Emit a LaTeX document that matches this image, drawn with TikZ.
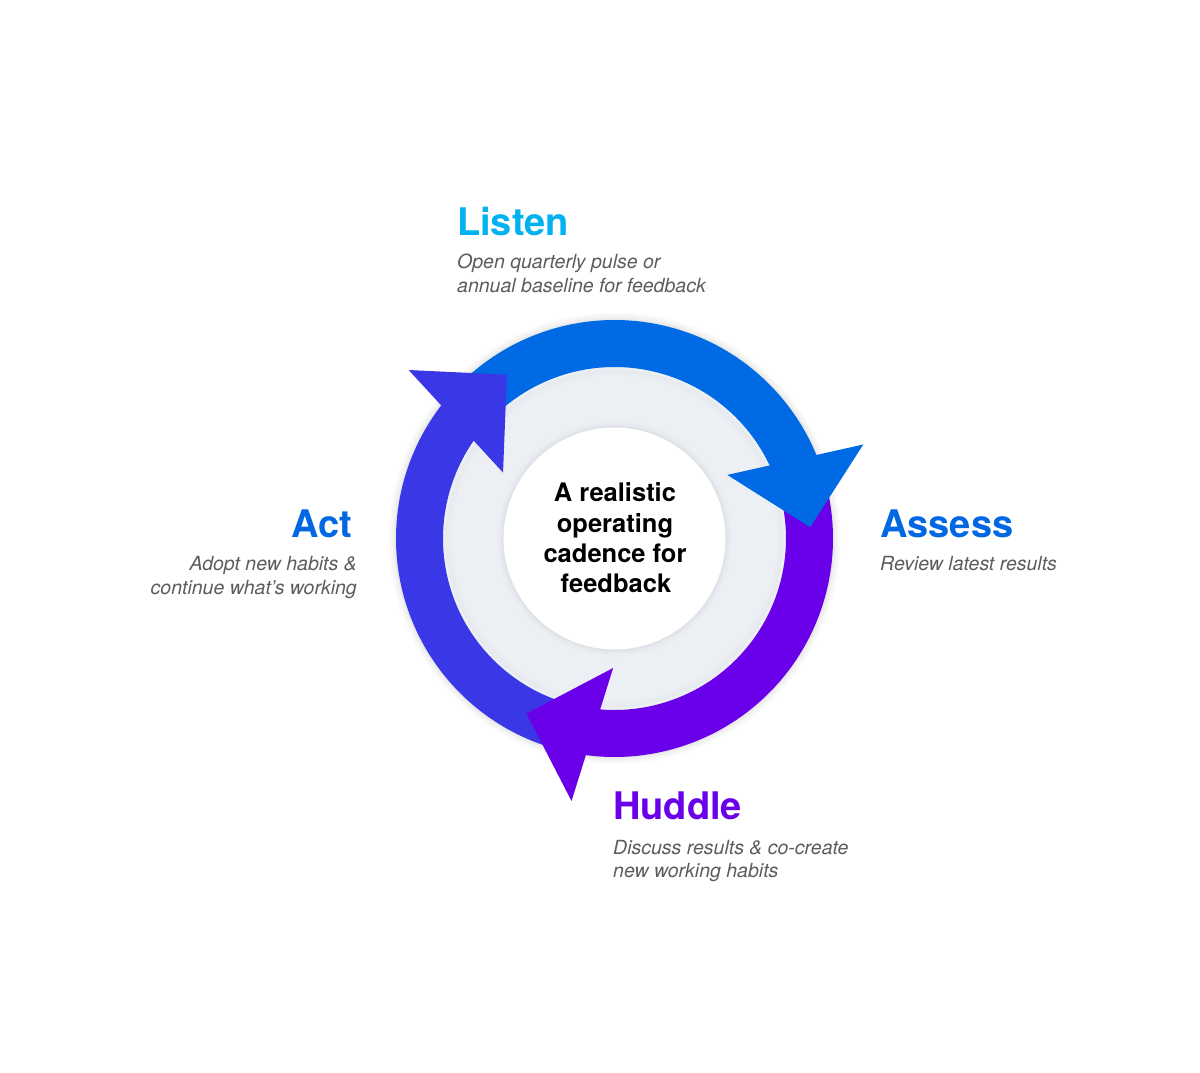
\documentclass[tikz,border=0pt]{standalone}
\usepackage{fontspec}
\setmainfont{TeX Gyre Heros}
\definecolor{ringblue}{HTML}{0069E4}
\definecolor{ringindigo}{HTML}{3A38E6}
\definecolor{ringpurple}{HTML}{6A00E9}
\definecolor{innergray}{HTML}{ECF0F4}
\definecolor{listencol}{HTML}{00B2F0}
\definecolor{bluecol}{HTML}{0068E2}
\definecolor{purplecol}{HTML}{6A00E9}
\definecolor{desccol}{HTML}{5C5C5C}
\tikzset{
  heading/.style={inner sep=0pt,font=\fontsize{38}{44}\selectfont\bfseries},
  desc/.style={inner sep=0pt,text=desccol,font=\fontsize{19.5}{24}\selectfont\itshape},
  centre/.style={inner sep=0pt,text=black,font=\fontsize{25.5}{31}\selectfont\bfseries},
}
\begin{document}
\begin{tikzpicture}[x=1pt,y=1pt]
\useasboundingbox (0,0) rectangle (1200,1072);
\fill[white] (0,0) rectangle (1200,1072);
\begin{scope}[shift={(614.5,533.5)}]
  % soft shadow around the ring
  \foreach \r/\o in {226/0.015,224/0.02,222/0.025,220/0.03}
    \fill[black,opacity=\o] (0,0) circle (\r);
  \fill[innergray] (0,0) circle (205);
  % soft shadow of the ring on the grey disc
  \foreach \r/\o in {168/0.02,166/0.015,164/0.01}
    \draw[black,opacity=\o,line width=2pt] (0,0) circle (\r);
  % centre circle with faint shadow
  \foreach \r/\o in {118/0.008,116/0.012,114/0.016,112.5/0.02}
    \fill[black,opacity=\o] (0,0) circle (\r);
  \fill[white] (0,0) circle (111);
  % bands
  \foreach \T/\c in {3.3/ringblue,123.3/ringindigo,243.3/ringpurple}{
    \fill[\c] ({\T+132}:218.5) arc[start angle={\T+132}, end angle={\T+18}, radius=218.5]
      -- ({\T+18}:171.5) arc[start angle={\T+18}, end angle={\T+132}, radius=171.5] -- cycle;
  }
  % heads
  \foreach \T/\c in {3.3/ringblue,123.3/ringindigo,243.3/ringpurple}{
    \fill[\c] (\T:196) -- ({\T+17.4}:266) -- ({\T+26.1}:129.5) -- cycle;
  }
\end{scope}
% centre text
\node[centre] (c1) at (615,570) [anchor=base] {A realistic};
\node[centre] (c2) at (615,539.5) [anchor=base] {operating};
\node[centre] (c3) at (615,509) [anchor=base] {cadence for};
\node[centre] (c4) at (616,479) [anchor=base] {feedback};
% Listen
\node[heading,text=listencol,anchor=base west] (listen) at (457,836) {Listen};
\node[desc,anchor=base west] (listen1) at (457,803) {Open quarterly pulse or};
\node[desc,anchor=base west] (listen2) at (457,779) {annual baseline for feedback};
% Assess
\node[heading,text=bluecol,anchor=base west] (assess) at (880,534) {Assess};
\node[desc,anchor=base west] (assess1) at (880,501) {Review latest results};
% Act
\node[heading,text=bluecol,anchor=base east] (act) at (352,534) {Act};
\node[desc,anchor=base east] (act1) at (357,501) {Adopt new habits \&};
\node[desc,anchor=base east] (act2) at (357,477) {continue what’s working};
% Huddle
\node[heading,text=purplecol,anchor=base west] (huddle) at (613,252) {Huddle};
\node[desc,anchor=base west] (huddle1) at (613,218) {Discuss results \& co-create};
\node[desc,anchor=base west] (huddle2) at (613,194) {new working habits};
\end{tikzpicture}
\end{document}
